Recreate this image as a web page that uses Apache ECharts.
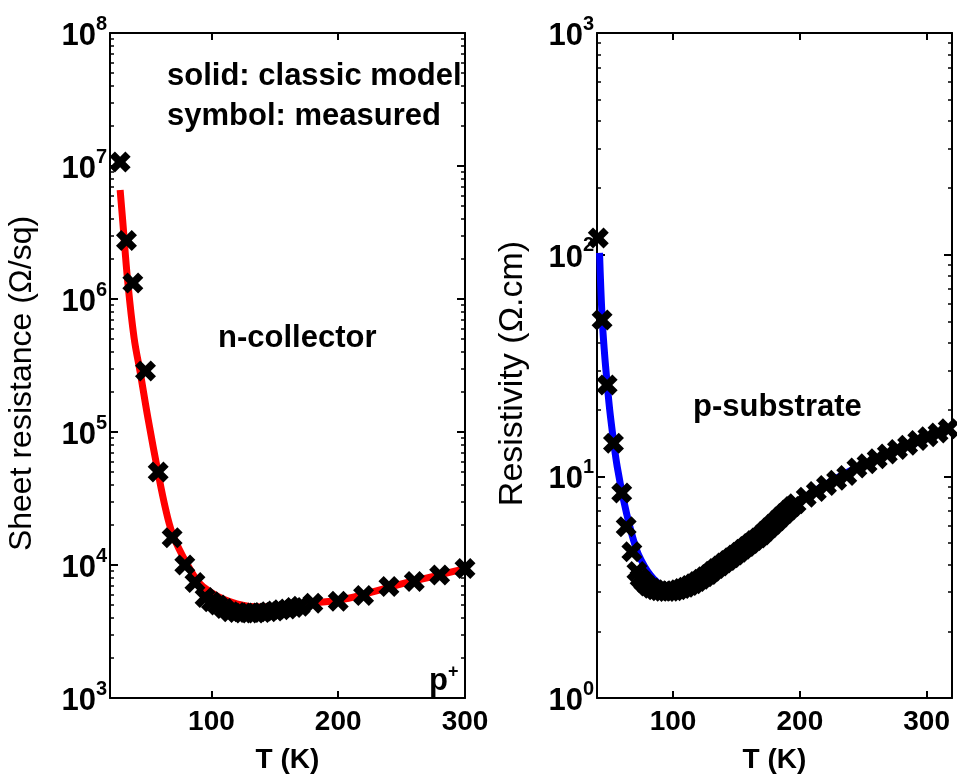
<!DOCTYPE html>
<html>
<head>
<meta charset="utf-8">
<script src="https://cdn.jsdelivr.net/npm/echarts@6/dist/echarts.min.js"></script>
<style>
html,body{margin:0;padding:0;background:#fff;}
#c{width:957px;height:780px;}
</style>
</head>
<body>
<div id="c"></div>
<script>
// ---------- data ----------
const leftMeasT = [28, 33, 38, 48, 58, 69, 79, 87, 95, 100, 105, 110, 115, 120, 125, 130, 135, 140, 145, 150, 155, 160, 165, 170, 180, 200, 220, 240, 260, 280, 300];
const leftMeasR = [1.07e7, 2.75e6, 1.32e6, 2.88e5, 5.0e4, 1.6e4, 1.0e4, 7.4e3, 5.7e3, 5.3e3, 5.0e3, 4.7e3, 4.46e3, 4.4e3, 4.35e3, 4.35e3, 4.35e3, 4.4e3, 4.45e3, 4.5e3, 4.6e3, 4.67e3, 4.8e3, 4.9e3, 5.15e3, 5.35e3, 5.9e3, 6.9e3, 7.5e3, 8.4e3, 9.4e3];
const leftModelT = [28, 30, 34, 39, 44, 50, 58, 64, 69, 75, 80, 90, 100, 110, 120, 130, 140, 150, 165, 180, 200, 225, 250, 275, 300];
const leftModelR = [6.6e6, 3.9e6, 1.35e6, 5.1e5, 2.75e5, 1.26e5, 4.9e4, 2.6e4, 1.74e4, 1.29e4, 1.05e4, 7.4e3, 6.2e3, 5.5e3, 5.1e3, 4.88e3, 4.84e3, 4.88e3, 5.0e3, 5.2e3, 5.43e3, 6.2e3, 7.2e3, 8.2e3, 9.4e3];

const rightMeasT = [41, 44, 48, 53, 59.5, 63, 67.5, 71.5, 74, 77, 80, 83, 86, 89, 92, 95, 98, 101, 104, 107, 110, 113, 116, 119, 122, 125, 128, 131, 134, 137, 140, 143, 146, 149, 152, 155, 158, 161, 164, 167, 170, 173, 176, 179, 182, 185, 188, 191, 194, 197, 205, 213, 221, 229, 237, 245, 253, 261, 269, 277, 285, 293, 301, 309, 317];
const rightMeasRho = [119, 50.7, 25.8, 14.1, 8.4, 5.93, 4.57, 3.72, 3.48, 3.33, 3.20, 3.13, 3.08, 3.05, 3.03, 3.02, 3.03, 3.05, 3.08, 3.12, 3.16, 3.22, 3.28, 3.35, 3.43, 3.52, 3.61, 3.73, 3.84, 3.94, 4.06, 4.17, 4.29, 4.42, 4.55, 4.69, 4.83, 4.98, 5.13, 5.27, 5.43, 5.65, 5.86, 6.08, 6.31, 6.55, 6.79, 7.05, 7.31, 7.53, 8.04, 8.55, 9.08, 9.59, 10.1, 10.9, 11.4, 12.0, 12.6, 13.2, 13.8, 14.5, 15.1, 15.7, 16.4];
const rightModelT = [42, 44, 46, 48, 50, 53, 56, 61, 66, 71, 75, 80, 85, 90, 95, 100, 110, 120, 135, 150, 170, 200, 240, 280, 320];
const rightModelRho = [102, 52.5, 35.5, 26.3, 20, 14.5, 11.0, 7.8, 5.9, 4.7, 4.17, 3.72, 3.43, 3.24, 3.16, 3.15, 3.2, 3.4, 3.95, 4.65, 5.9, 7.8, 10.6, 13.3, 16.4];

const xTicks = [100, 200, 300];
const leftDecades = [1e3, 1e4, 1e5, 1e6, 1e7, 1e8];
const rightDecades = [1, 10, 100, 1000];

// ---------- helpers ----------
const FONT = "'Liberation Sans', Arial, sans-serif";
function pairs(xs, ys) { return xs.map((x, i) => [x, ys[i]]); }
function minorTicks(decades) {
  const out = [];
  for (let d = 0; d < decades.length - 1; d++) {
    for (let k = 2; k <= 9; k++) out.push(decades[d] * k);
  }
  return out;
}
const X_PATH = 'path://M0,2.5 L2.5,0 L5,2.5 L7.5,0 L10,2.5 L7.5,5 L10,7.5 L7.5,10 L5,7.5 L2.5,10 L0,7.5 L2.5,5 Z';

function xAxes(gi, min, max) {
  return [
    {
      gridIndex: gi, type: 'value', min: min, max: max, position: 'bottom',
      axisLine: { show: true, lineStyle: { color: '#000', width: 2 } },
      axisTick: { show: true, inside: true, length: 7, customValues: xTicks, lineStyle: { color: '#000', width: 2 } },
      axisLabel: { customValues: xTicks, color: '#000', fontSize: 28, fontWeight: 'bold', fontFamily: FONT, margin: 10 },
      splitLine: { show: false },
      name: 'T (K)', nameLocation: 'middle', nameGap: 48,
      nameTextStyle: { color: '#000', fontSize: 28, fontWeight: 'bold', fontFamily: FONT }
    },
    {
      gridIndex: gi, type: 'value', min: min, max: max, position: 'top',
      axisLine: { show: true, lineStyle: { color: '#000', width: 2 } },
      axisTick: { show: true, inside: true, length: 7, customValues: xTicks, lineStyle: { color: '#000', width: 2 } },
      axisLabel: { show: false },
      splitLine: { show: false }
    }
  ];
}

function yAxes(gi, min, max, decades, name, nameGap, nameSize, namePad) {
  const minors = minorTicks(decades);
  const labelCfg = {
    customValues: decades,
    margin: 3,
    formatter: function (v) { return '{a|10}{b|' + Math.round(Math.log10(v)) + '}'; },
    rich: {
      a: { fontSize: 31, fontWeight: 'bold', fontFamily: FONT, color: '#000', verticalAlign: 'bottom', lineHeight: 38 },
      b: { fontSize: 20, fontWeight: 'bold', fontFamily: FONT, color: '#000', verticalAlign: 'top', lineHeight: 20 }
    }
  };
  return [
    {
      gridIndex: gi, type: 'log', logBase: 10, min: min, max: max, position: 'left',
      axisLine: { show: true, lineStyle: { color: '#000', width: 2 } },
      axisTick: { show: true, inside: true, length: 8, customValues: decades, lineStyle: { color: '#000', width: 2 } },
      axisLabel: labelCfg,
      splitLine: { show: false },
      name: name, nameLocation: 'middle', nameGap: nameGap,
      nameTextStyle: { color: '#000', fontSize: nameSize, fontFamily: FONT, padding: namePad }
    },
    {
      gridIndex: gi, type: 'log', logBase: 10, min: min, max: max, position: 'right',
      axisLine: { show: true, lineStyle: { color: '#000', width: 2 } },
      axisTick: { show: true, inside: true, length: 8, customValues: decades, lineStyle: { color: '#000', width: 2 } },
      axisLabel: { show: false },
      splitLine: { show: false }
    },
    {
      gridIndex: gi, type: 'log', logBase: 10, min: min, max: max, position: 'left',
      axisLine: { show: false },
      axisTick: { show: true, inside: true, length: 4, customValues: minors, lineStyle: { color: '#000', width: 1.5 } },
      axisLabel: { show: false },
      splitLine: { show: false }
    },
    {
      gridIndex: gi, type: 'log', logBase: 10, min: min, max: max, position: 'right',
      axisLine: { show: false },
      axisTick: { show: true, inside: true, length: 4, customValues: minors, lineStyle: { color: '#000', width: 1.5 } },
      axisLabel: { show: false },
      splitLine: { show: false }
    }
  ];
}

const chart = echarts.init(document.getElementById('c'), null, { renderer: 'canvas' });

const option = {
  animation: false,
  backgroundColor: '#fff',
  grid: [
    { left: 110, top: 33, width: 355, height: 665, show: false },
    { left: 597, top: 33, width: 355, height: 665, show: false }
  ],
  xAxis: [].concat(xAxes(0, 20, 300), xAxes(1, 40, 320)),
  yAxis: [].concat(
    yAxes(0, 1e3, 1e8, leftDecades, 'Sheet resistance (\u03A9/sq)', 72, 32, [0, 36, 0, 0]),
    yAxes(1, 1, 1000, rightDecades, 'Resistivity (\u03A9.cm)', 67, 34, [0, 16, 0, 0])
  ),
  series: [
    {
      type: 'line', xAxisIndex: 0, yAxisIndex: 0, data: pairs(leftModelT, leftModelR),
      smooth: 0.4, showSymbol: false, symbol: 'none',
      lineStyle: { color: '#ff0000', width: 7 }, z: 2
    },
    {
      type: 'scatter', xAxisIndex: 0, yAxisIndex: 0, data: pairs(leftMeasT, leftMeasR),
      symbol: X_PATH, symbolSize: 21, itemStyle: { color: '#000', opacity: 1 }, z: 3
    },
    {
      type: 'line', xAxisIndex: 2, yAxisIndex: 4, data: pairs(rightModelT, rightModelRho),
      smooth: 0.4, showSymbol: false, symbol: 'none',
      lineStyle: { color: '#0000ff', width: 7 }, z: 2
    },
    {
      type: 'scatter', xAxisIndex: 2, yAxisIndex: 4, data: pairs(rightMeasT, rightMeasRho),
      symbol: X_PATH, symbolSize: 21, itemStyle: { color: '#000', opacity: 1 }, z: 3
    }
  ],
  graphic: [
    { type: 'text', left: 167, top: 61, style: { text: 'solid: classic model', font: 'bold 31px ' + FONT, fill: '#000' } },
    { type: 'text', left: 167, top: 101, style: { text: 'symbol: measured', font: 'bold 31px ' + FONT, fill: '#000' } },
    { type: 'text', left: 218, top: 323, style: { text: 'n-collector', font: 'bold 31px ' + FONT, fill: '#000' } },
    { type: 'text', left: 693, top: 392, style: { text: 'p-substrate', font: 'bold 31px ' + FONT, fill: '#000' } },
    { type: 'text', left: 429, top: 663, style: {
        text: '{p|p}{s|+}',
        rich: {
          p: { font: 'bold 31px ' + FONT, fill: '#000', verticalAlign: 'bottom', lineHeight: 34 },
          s: { font: 'bold 18px ' + FONT, fill: '#000', verticalAlign: 'top', lineHeight: 18 }
        }
      } }
  ]
};
chart.setOption(option);
</script>
</body>
</html>
